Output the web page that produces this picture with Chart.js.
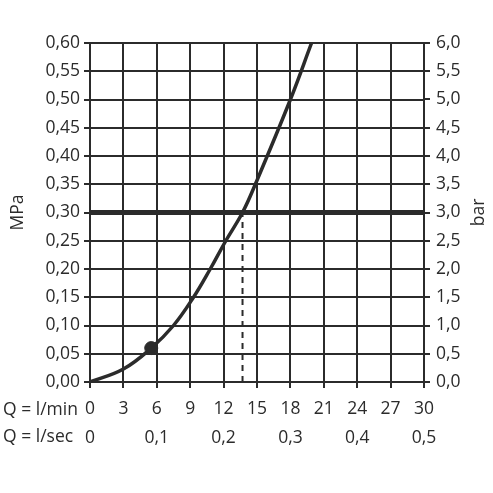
<!DOCTYPE html>
<html>
<head>
<meta charset="utf-8">
<script src="https://cdn.jsdelivr.net/npm/chart.js@4/dist/chart.umd.min.js"></script>
<style>
html,body{margin:0;padding:0;background:#fff;}
#wrap{width:493px;height:493px;}
</style>
</head>
<body>
<div id="wrap"><canvas id="c" width="493" height="493"></canvas></div>
<script>
// Flow rate (l/min) vs flow pressure (MPa)
const flowLpm   = [0, 3, 5.5, 7.5, 9.3, 10.8, 12.2, 13.7, 14.85, 18.0, 19.9];
const pressMPa  = [0, 0.023, 0.06, 0.10, 0.15, 0.20, 0.25, 0.30, 0.35, 0.50, 0.60];
const markerLpm = [5.5];
const markerMPa = [0.06];
const refPressMPa = 0.30;       // thick horizontal line
const refFlowLpm  = 13.7;       // dashed vertical drop line
const flowRange   = [0, 30];    // l/min axis
const flowStep    = 3;
const secRange    = [0, 0.5];   // l/sec axis
const secStep     = 0.1;
const mpaRange    = [0, 0.6];
const mpaStep     = 0.05;
const barRange    = [0, 6];
const barStep     = 0.5;
const rowLabels   = ["Q = l/min", "Q = l/sec"];
const leftTitle   = "MPa";
const rightTitle  = "bar";

const INK = '#2b2b2b';
const FONT = "'Open Sans', 'DejaVu Sans', sans-serif";
const FS = 17.5;
const comma = (v, d) => v.toFixed(d).replace('.', ',');

const curve = flowLpm.map((x, i) => ({x, y: pressMPa[i]}));
const marker = markerLpm.map((x, i) => ({x, y: markerMPa[i]}));
const hLine = [{x: flowRange[0], y: refPressMPa}, {x: flowRange[1], y: refPressMPa}];
const vLine = [{x: refFlowLpm, y: 0}, {x: refFlowLpm, y: refPressMPa}];

const extraText = {
  id: 'extraText',
  afterDraw(chart) {
    const ctx = chart.ctx, ca = chart.chartArea;
    ctx.save();
    ctx.fillStyle = INK;
    ctx.font = FS + "px " + FONT;
    ctx.textBaseline = 'middle';
    ctx.textAlign = 'left';
    ctx.fillText(rowLabels[0], 3, ca.bottom + 28);
    ctx.fillText(rowLabels[1], 3, ca.bottom + 55);
    const cy = (ca.top + ca.bottom) / 2;
    ctx.textAlign = 'center';
    ctx.translate(18, cy);
    ctx.rotate(-Math.PI / 2);
    ctx.fillText(leftTitle, 0, 0);
    ctx.restore();
    ctx.save();
    ctx.fillStyle = INK;
    ctx.font = FS + "px " + FONT;
    ctx.textBaseline = 'middle';
    ctx.textAlign = 'center';
    ctx.translate(479, cy);
    ctx.rotate(-Math.PI / 2);
    ctx.fillText(rightTitle, 0, 0);
    ctx.restore();
  }
};

const tickFont = {family: FONT, size: FS};

new Chart(document.getElementById('c'), {
  type: 'line',
  data: {
    datasets: [
      {data: hLine, borderColor: INK, borderWidth: 5, pointRadius: 0, xAxisID: 'x', yAxisID: 'y', order: 3},
      {data: vLine, borderColor: INK, borderWidth: 2, borderDash: [6, 5], pointRadius: 0, xAxisID: 'x', yAxisID: 'y', order: 2},
      {data: curve, borderColor: INK, borderWidth: 3.5, pointRadius: 0, tension: 0.4, xAxisID: 'x', yAxisID: 'y', order: 1},
      {data: marker, borderColor: INK, backgroundColor: INK, showLine: false, pointRadius: 6.5, pointHoverRadius: 6.5, xAxisID: 'x', yAxisID: 'y', order: 0}
    ]
  },
  options: {
    responsive: false,
    animation: false,
    events: [],
    layout: {padding: {top: 43, left: 0, right: 0, bottom: 0}},
    plugins: {legend: {display: false}, tooltip: {enabled: false}},
    scales: {
      x: {
        type: 'linear', position: 'bottom', min: flowRange[0], max: flowRange[1],
        ticks: {stepSize: flowStep, font: tickFont, color: INK, padding: 11, maxRotation: 0},
        grid: {color: INK, lineWidth: 2, tickLength: 6},
        border: {color: INK, width: 2},
        afterFit(s) { s.height = 38; }
      },
      x2: {
        type: 'linear', position: 'bottom', min: secRange[0], max: secRange[1],
        ticks: {stepSize: secStep, font: tickFont, color: INK, padding: 0, maxRotation: 0,
                callback: v => v === 0 ? '0' : comma(v, 1)},
        grid: {display: false},
        border: {display: false},
        afterFit(s) { s.height = 73; }
      },
      y: {
        type: 'linear', position: 'left', min: mpaRange[0], max: mpaRange[1],
        ticks: {stepSize: mpaStep, font: tickFont, color: INK, padding: 4, callback: v => comma(v, 2)},
        grid: {color: INK, lineWidth: 2, tickLength: 6},
        border: {color: INK, width: 2},
        afterFit(s) { s.width = 90; }
      },
      y2: {
        type: 'linear', position: 'right', min: barRange[0], max: barRange[1],
        ticks: {stepSize: barStep, font: tickFont, color: INK, padding: 6, callback: v => comma(v, 1)},
        grid: {drawOnChartArea: false, color: INK, lineWidth: 2, tickLength: 6},
        border: {color: INK, width: 2},
        afterFit(s) { s.width = 69; }
      }
    }
  },
  plugins: [extraText]
});
</script>
</body>
</html>
